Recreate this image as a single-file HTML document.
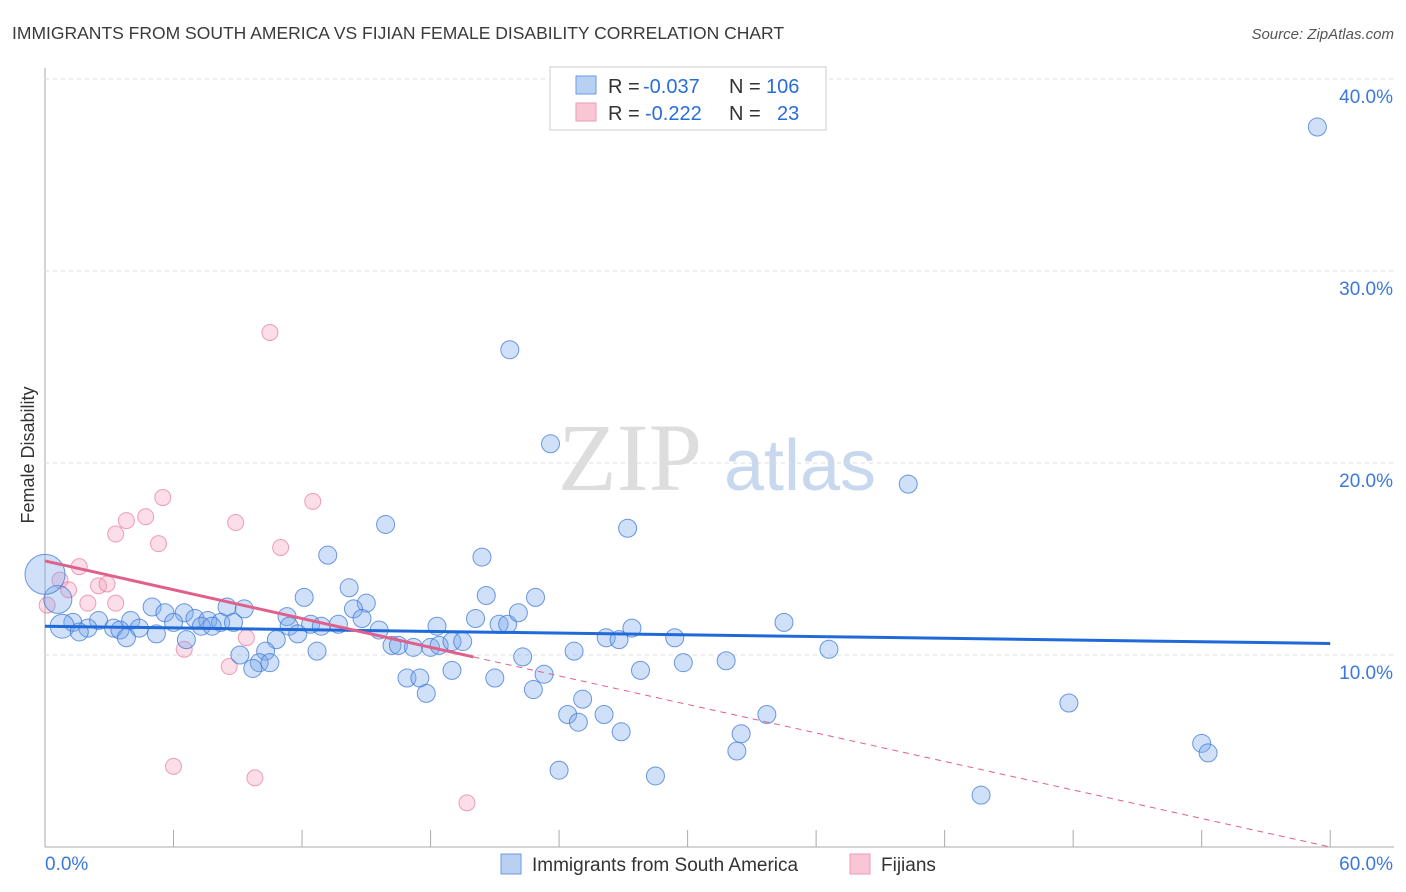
<!DOCTYPE html>
<html><head><meta charset="utf-8"><style>
body{margin:0;background:#fff;font-family:"Liberation Sans",sans-serif}
svg{display:block}
</style></head><body>
<svg id="c" width="1406" height="892">
<text x="12" y="39" font-size="17.5" fill="#3a3a3a">IMMIGRANTS FROM SOUTH AMERICA VS FIJIAN FEMALE DISABILITY CORRELATION CHART</text>
<text x="1394" y="39" font-size="15" fill="#555" text-anchor="end" font-style="italic">Source: ZipAtlas.com</text>
<text x="34" y="455" font-size="18" fill="#333" text-anchor="middle" transform="rotate(-90 34 455)">Female Disability</text>
<text x="630" y="490" font-size="96" fill="#ddd" font-family="Liberation Serif" text-anchor="middle">ZIP</text>
<text x="800" y="490" font-size="72" fill="#c8d8ee" text-anchor="middle">atlas</text>
<g id="grid"></g><g id="marks"></g>
<g font-size="20">
<rect x="550" y="67" width="276" height="63" fill="#fff" stroke="#ccc"/>
<rect x="576" y="76" width="20" height="18" fill="#b8d0f2" stroke="#6a9be0"/>
<rect x="576" y="103" width="20" height="18" fill="#f9c6d6" stroke="#ee9ab5"/>
<text x="608" y="93" fill="#333">R =</text><text x="643" y="93" fill="#2a6dd9">-0.037</text>
<text x="729" y="93" fill="#333">N =</text><text x="766" y="93" fill="#2a6dd9">106</text>
<text x="608" y="120" fill="#333">R =</text><text x="645" y="120" fill="#2a6dd9">-0.222</text>
<text x="729" y="120" fill="#333">N =</text><text x="777" y="120" fill="#2a6dd9">23</text>
</g>
<g>
<rect x="501" y="854" width="20" height="20" fill="#b8d0f2" stroke="#6a9be0"/>
<text x="532" y="871" font-size="19" fill="#333">Immigrants from South America</text>
<rect x="850" y="854" width="20" height="20" fill="#f9c6d6" stroke="#ee9ab5"/>
<text x="881" y="871" font-size="19" fill="#333">Fijians</text>
</g>
</svg>
<script>
const blueX=[59.4,21.7,23.6,40.3,27.2,15.9,13.2,20.4,14.2,20.6,22.9,12.1,15.0,14.4,5.0,5.6,6.5,8.5,9.3,7.0,7.6,8.2,6.0,4.0,2.5,1.3,0.8,2.0,1.6,3.2,3.5,4.4,3.8,5.2,7.3,7.8,8.8,11.3,11.4,11.8,12.4,12.9,13.7,14.8,15.6,20.1,21.2,21.6,22.1,18.3,27.4,26.2,26.8,29.4,34.5,16.2,16.5,17.2,18.0,18.4,19.0,19.5,10.8,6.6,12.7,9.1,10.3,10.0,10.5,9.7,24.7,22.3,36.6,31.8,29.8,27.8,23.3,19.0,16.9,17.5,21.0,17.8,22.8,25.1,47.8,24.4,26.1,33.7,24.9,26.9,32.5,32.3,54.0,54.3,24.0,28.5,43.7,0.6,0.0];
const blueY=[37.5,25.9,21.0,18.9,16.6,16.8,15.2,15.1,13.5,13.1,13.0,13.0,12.7,12.4,12.5,12.2,12.2,12.5,12.4,11.9,11.8,11.7,11.7,11.8,11.8,11.7,11.5,11.4,11.2,11.4,11.3,11.4,10.9,11.1,11.5,11.5,11.7,12.0,11.5,11.1,11.6,11.5,11.6,11.9,11.3,11.9,11.6,11.6,12.2,11.5,11.4,10.9,10.8,10.9,11.7,10.5,10.5,10.4,10.4,10.5,10.7,10.7,10.8,10.8,10.2,10.0,10.2,9.6,9.6,9.3,10.2,9.9,10.3,9.7,9.6,9.2,9.0,9.2,8.8,8.8,8.8,8.0,8.2,7.7,7.5,6.9,6.9,6.9,6.5,6.0,5.9,5.0,5.4,4.9,4.0,3.7,2.7,12.9,14.2];
const blueR=[9,9,9,9,9,9,9,9,9,9,9,9,9,9,9,9,9,9,9,9,9,9,9,9,9,9,12,9,9,9,9,9,9,9,9,9,9,9,9,9,9,9,9,9,9,9,9,9,9,9,9,9,9,9,9,9,9,9,9,9,9,9,9,9,9,9,9,9,9,9,9,9,9,9,9,9,9,9,9,9,9,9,9,9,9,9,9,9,9,9,9,9,9,9,9,9,9,14,20];
const pinkX=[10.5,5.5,12.5,3.8,4.7,8.9,3.3,5.3,11.0,1.6,0.7,1.1,2.5,2.9,2.0,0.1,3.3,9.4,6.5,8.6,6.0,9.8,19.7];
const pinkY=[26.8,18.2,18.0,17.0,17.2,16.9,16.3,15.8,15.6,14.6,13.9,13.4,13.6,13.7,12.7,12.6,12.7,10.9,10.3,9.4,4.2,3.6,2.3];
const xTicks=["0.0%","60.0%"];const yTicks=[10,20,30,40];
const X=v=>45+v*21.42, Y=v=>847-v*19.2;
const ns="http://www.w3.org/2000/svg";
function mk(t,a,p){const e=document.createElementNS(ns,t);for(const k in a)e.setAttribute(k,a[k]);p.appendChild(e);return e;}
const g=document.getElementById('grid'),m=document.getElementById('marks');
mk('line',{x1:45,y1:68,x2:45,y2:847,stroke:'#aaa'},g);
mk('line',{x1:45,y1:847,x2:1394,y2:847,stroke:'#aaa'},g);
for(let i=0;i<=10;i++){const l=mk('line',{x1:X(i*6),y1:830,x2:X(i*6),y2:847,stroke:'#aaa'},g);}
yTicks.forEach(v=>{const l=mk('line',{x1:45,y1:Y(v),x2:1394,y2:Y(v),stroke:'#ddd','stroke-dasharray':'4,4'},g);


const t=mk('text',{x:1393,y:Y(v)+24,'font-size':19,fill:'#3b78dd','text-anchor':'end'},g);t.textContent=v.toFixed(1)+'%';

});
[[45,'start',0],[1393,'end',1]].forEach(([x,a,i])=>{const t=mk('text',{x:x,y:870,'font-size':19,fill:'#3b78dd','text-anchor':a},g);t.textContent=xTicks[i];

});
pinkX.forEach((v,i)=>{const c=mk('circle',{cx:X(v),cy:Y(pinkY[i]),r:8,fill:'rgba(244,160,190,0.35)',stroke:'rgba(232,120,160,0.7)'},m);

});
blueX.forEach((v,i)=>{const c=mk('circle',{cx:X(v),cy:Y(blueY[i]),r:blueR[i],fill:'rgba(120,165,235,0.35)',stroke:'rgba(60,120,215,0.75)'},m);

});
let l=mk('line',{x1:X(0),y1:Y(11.5),x2:X(60),y2:Y(10.6),stroke:'#1f6ad8','stroke-width':3},m);


l=mk('line',{x1:X(0),y1:Y(14.9),x2:X(20),y2:Y(9.9),stroke:'#e0608a','stroke-width':3},m);


l=mk('line',{x1:X(20),y1:Y(9.9),x2:X(60),y2:Y(0),stroke:'#e0608a','stroke-width':1,'stroke-dasharray':'6,5'},m);


</script>
</body></html>
